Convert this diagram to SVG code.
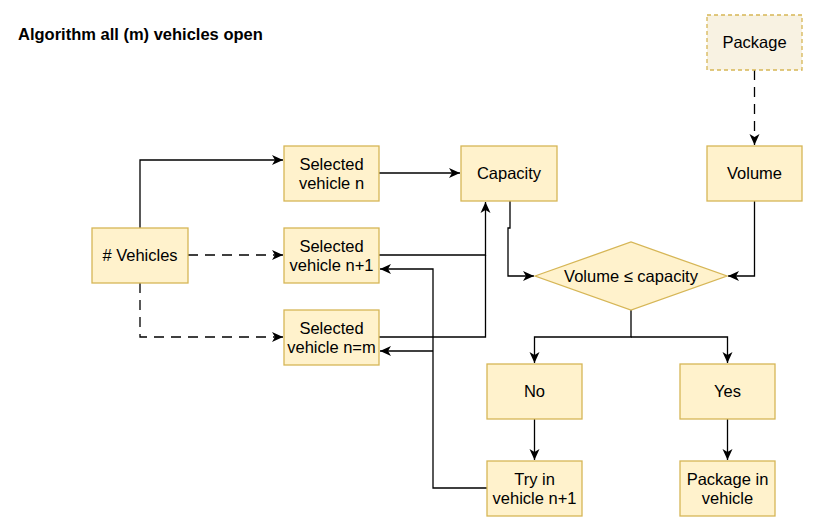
<svg xmlns="http://www.w3.org/2000/svg" width="817" height="525" viewBox="0 0 817 525">
<style>
.box{fill:#fff2cc;stroke:#d6b656;stroke-width:1.3}
.pkg{fill:#f8f2e2;stroke:#d6b656;stroke-width:1.3;stroke-dasharray:4 3}
.t{font-family:"Liberation Sans",Arial,sans-serif;font-size:16.5px;fill:#000;text-anchor:middle}
.title{font-family:"Liberation Sans",Arial,sans-serif;font-size:16.5px;font-weight:bold;fill:#000}
.c{fill:none;stroke:#000;stroke-width:1.3}
.d{stroke-dasharray:10 7}
</style>
<defs>
<marker id="a" markerUnits="userSpaceOnUse" markerWidth="13" markerHeight="13" refX="12" refY="6.5" orient="auto">
<path d="M1,1.5 L12,6.5 L1,11.5 L4,6.5 Z" fill="#000"/>
</marker>
</defs>
<rect width="817" height="525" fill="#fff"/>
<text class="title" x="18" y="40">Algorithm all (m) vehicles open</text>
<g id="connectors">
<path class="c" d="M140,228 V160 H283" marker-end="url(#a)"/>
<path class="c d" d="M188,255 H283" marker-end="url(#a)"/>
<path class="c d" d="M140,283 V337 H283" marker-end="url(#a)"/>
<path class="c" d="M379,173 H460" marker-end="url(#a)"/>
<path class="c" d="M379,255 H485.5 V202" marker-end="url(#a)"/>
<path class="c" d="M379,337 H485.5 V255"/>
<path class="c" d="M510,201 V228 H508 V276 H534" marker-end="url(#a)"/>
<path class="c" d="M754.5,201 V276 H728" marker-end="url(#a)"/>
<path class="c" d="M631,310 V337 H534.5 V363" marker-end="url(#a)"/>
<path class="c" d="M631,337 H727.5 V363" marker-end="url(#a)"/>
<path class="c" d="M534.5,419 V460" marker-end="url(#a)"/>
<path class="c" d="M727.5,419 V460" marker-end="url(#a)"/>
<path class="c" d="M487,488 H433 V269 H380" marker-end="url(#a)"/>
<path class="c" d="M433,351 H380" marker-end="url(#a)"/>
<path class="c d" d="M754.5,70 V145" marker-end="url(#a)"/>
</g>
<g id="package"><rect class="pkg" x="707" y="15" width="95" height="55"/><text class="t" x="754.5" y="48">Package</text></g>
<g id="volume"><rect class="box" x="707" y="146" width="95" height="55"/><text class="t" x="754.5" y="179">Volume</text></g>
<g id="capacity"><rect class="box" x="461" y="146" width="96" height="55"/><text class="t" x="509" y="179">Capacity</text></g>
<g id="vehicles"><rect class="box" x="92" y="228" width="96" height="55"/><text class="t" x="140" y="261">#&#160;Vehicles</text></g>
<g id="sel-n"><rect class="box" x="284" y="146" width="95" height="55"/><text class="t" x="331.5" y="169.5">Selected</text><text class="t" x="331.5" y="188.5">vehicle n</text></g>
<g id="sel-n1"><rect class="box" x="284" y="228" width="95" height="55"/><text class="t" x="331.5" y="251.5">Selected</text><text class="t" x="331.5" y="270.5">vehicle n+1</text></g>
<g id="sel-nm"><rect class="box" x="284" y="310" width="95" height="55"/><text class="t" x="331.5" y="333.5">Selected</text><text class="t" x="331.5" y="352.5">vehicle n=m</text></g>
<g id="decision"><polygon class="box" points="535,276 631,242 727,276 631,310"/><text class="t" x="631" y="281.5">Volume ≤ capacity</text></g>
<g id="no"><rect class="box" x="487" y="364" width="95" height="55"/><text class="t" x="534.5" y="397">No</text></g>
<g id="yes"><rect class="box" x="680" y="364" width="95" height="55"/><text class="t" x="727.5" y="397">Yes</text></g>
<g id="try"><rect class="box" x="487" y="461" width="95" height="55"/><text class="t" x="534.5" y="484.5">Try in</text><text class="t" x="534.5" y="503.5">vehicle n+1</text></g>
<g id="pkg-in"><rect class="box" x="680" y="461" width="95" height="55"/><text class="t" x="727.5" y="484.5">Package in</text><text class="t" x="727.5" y="503.5">vehicle</text></g>
</svg>
